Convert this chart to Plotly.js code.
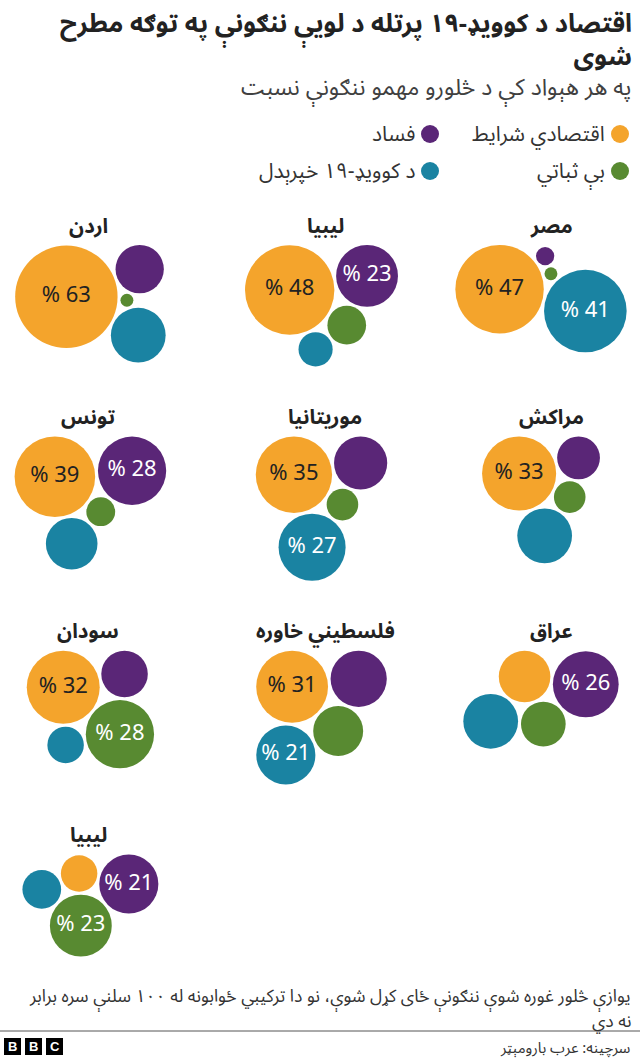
<!DOCTYPE html>
<html>
<head>
<meta charset="utf-8">
<script src="https://cdn.plot.ly/plotly-3.0.1.min.js"></script>
<style>html,body{margin:0;padding:0;background:#fff}</style>
</head>
<body>
<div id="chart" style="width:640px;height:1062px"></div>
<script>
// Countries, ordered by the share naming economic conditions (left to right, row by row)
const countries = ['اردن', 'لیبیا', 'مصر', 'تونس', 'موریتانیا', 'مراکش', 'سودان', 'فلسطیني خاوره', 'عراق', 'لیبیا'];

// Share (%) naming each challenge as the most important one
const economy     = [63, 48, 47, 39, 35, 33, 32, 31, 16, 8];
const corruption  = [14, 23, 2, 28, 17, 11, 13, 19, 26, 21];
const instability = [1, 9, 1, 5, 6, 6, 28, 15, 12, 23];
const covid       = [18, 7, 41, 16, 27, 18, 8, 21, 18, 9];

const seriesNames = ['اقتصادي شرایط', 'فساد', 'بې ثباتي', 'د کوویډ-۱۹ خپرېدل'];
const seriesColors = ['#F4A42C', '#5A2677', '#588A31', '#1A83A2'];

// ---- layout of each bubble cluster ----
const K = 6.45;          // px of radius per sqrt(percentage point)
const GAP = 3;           // white space between touching bubbles
const LABEL_MIN = 20;    // bubbles from this share upward carry their value
const purpleTurn = [20.6, 10.3, 36, 4.4, 10, 14.7, 12.2, 6.8, -7.2, -12]; // direction of the corruption bubble, degrees
const groupCenterX = [90.4, 321.5, 541];
const titleCenterX = [88, 325, 551];
const FIRST_ROW_TOP = 245;
const ROW_GAP = 70;
const TITLE_OFFSET = 19;

const rad = v => K * Math.sqrt(v);

// circle of radius r touching A and B, on the clockwise side of A->B (y up)
function touching(A, B, r) {
  const da = A.r + r + GAP, db = B.r + r + GAP;
  const dx = B.x - A.x, dy = B.y - A.y, d = Math.hypot(dx, dy);
  const a = (da * da - db * db + d * d) / (2 * d);
  const h = Math.sqrt(Math.max(0, da * da - a * a));
  const ux = dx / d, uy = dy / d;
  return {x: A.x + a * ux + h * uy, y: A.y + a * uy - h * ux, r: r};
}

function cluster(i) {
  const O = {x: 0, y: 0, r: rad(economy[i])};
  const t = purpleTurn[i] * Math.PI / 180;
  const rp = rad(corruption[i]);
  const dp = O.r + rp + GAP;
  const P = {x: dp * Math.cos(t), y: dp * Math.sin(t), r: rp};
  const G = touching(O, P, rad(instability[i]));
  const B = touching(O, G, rad(covid[i]));
  // to screen orientation (y down)
  return [O, P, G, B].map(c => ({x: c.x, y: -c.y, r: c.r}));
}

const placed = [];
let rowTop = FIRST_ROW_TOP;
const titles = [];
for (let row = 0; row * 3 < countries.length; row++) {
  let rowBottom = rowTop;
  for (let col = 0; col < 3; col++) {
    const i = row * 3 + col;
    if (i >= countries.length) break;
    const cs = cluster(i);
    const minX = Math.min(...cs.map(c => c.x - c.r));
    const maxX = Math.max(...cs.map(c => c.x + c.r));
    const minY = Math.min(...cs.map(c => c.y - c.r));
    const maxY = Math.max(...cs.map(c => c.y + c.r));
    const ox = groupCenterX[col] - (minX + maxX) / 2;
    const oy = rowTop - minY;
    placed[i] = cs.map(c => ({x: c.x + ox, y: c.y + oy, r: c.r}));
    rowBottom = Math.max(rowBottom, maxY + oy);
    titles.push({text: '<b>' + countries[i] + '</b>', x: titleCenterX[col], y: rowTop - TITLE_OFFSET});
  }
  rowTop = rowBottom + ROW_GAP;
}

const seriesValues = [economy, corruption, instability, covid];
const traces = seriesValues.map((vals, s) => ({
  type: 'scatter',
  mode: 'markers+text',
  name: seriesNames[s],
  x: placed.map(p => p[s].x),
  y: placed.map(p => p[s].y),
  marker: {
    size: vals.map(v => 2 * rad(v)),
    sizemode: 'diameter',
    color: seriesColors[s],
    opacity: 1,
    line: {width: 0}
  },
  text: vals.map(v => v >= LABEL_MIN ? '% ' + v : ''),
  textposition: 'middle center',
  textfont: {family: 'Noto Sans, Open Sans, sans-serif', size: 22, color: s === 0 ? '#222222' : '#ffffff'},
  hoverinfo: 'skip',
  showlegend: false,
  cliponaxis: false
}));

const AR = 'Noto Sans Arabic, Noto Naskh Arabic, DejaVu Sans, sans-serif';

const annotations = titles.map(t => ({
  x: t.x, y: t.y, xref: 'x', yref: 'y', text: t.text, showarrow: false,
  xanchor: 'center', yanchor: 'middle',
  font: {family: AR, size: 20.5, color: '#222222'}
}));

// headline
annotations.push({x: 634, y: 6, yshift: 11, xref: 'x', yref: 'y', showarrow: false, xanchor: 'right', yanchor: 'top', align: 'right',
  text: '<b>اقتصاد د کوویډ-۱۹ پرتله د لویې ننګونې په توګه مطرح<br>شوی</b>',
  font: {family: AR, size: 25.5, color: '#222222'}});

// subtitle
annotations.push({x: 633, y: 87, xref: 'x', yref: 'y', showarrow: false, xanchor: 'right', yanchor: 'middle',
  text: 'په هر هېواد کې د څلورو مهمو ننګونې نسبت', font: {family: AR, size: 23, color: '#404040'}});

// legend: two columns, swatch on the right of each label
const legendSpots = [{x: 620, y: 134}, {x: 430, y: 134}, {x: 620, y: 171}, {x: 430, y: 171}];
const shapes = [];
legendSpots.forEach((p, s) => {
  shapes.push({type: 'circle', xref: 'x', yref: 'y', x0: p.x - 9, x1: p.x + 9, y0: p.y - 9, y1: p.y + 9,
    fillcolor: seriesColors[s], line: {width: 0}});
  annotations.push({x: p.x - 13, y: p.y, xref: 'x', yref: 'y', showarrow: false, xanchor: 'right', yanchor: 'middle',
    text: seriesNames[s], font: {family: AR, size: 21, color: '#333333'}});
});

// note and source
annotations.push({x: 633, y: 996, xref: 'x', yref: 'y', showarrow: false, xanchor: 'right', yanchor: 'middle',
  text: 'یوازې څلور غوره شوې ننګونې ځای کړل شوې، نو دا ترکیبي ځوابونه له ۱۰۰ سلنې سره برابر',
  font: {family: AR, size: 17.5, color: '#333333'}});
annotations.push({x: 633, y: 1021, xref: 'x', yref: 'y', showarrow: false, xanchor: 'right', yanchor: 'middle',
  text: 'نه دي', font: {family: AR, size: 17.5, color: '#333333'}});
annotations.push({x: 633, y: 1048, xref: 'x', yref: 'y', showarrow: false, xanchor: 'right', yanchor: 'middle',
  text: 'سرچینه: عرب بارومېټر', font: {family: AR, size: 15, color: '#333333'}});

shapes.push({type: 'line', xref: 'x', yref: 'y', x0: 0, x1: 640, y0: 1031, y1: 1031, line: {color: '#555555', width: 1}});

// BBC blocks
['B', 'B', 'C'].forEach((ch, j) => {
  const x0 = 4 + j * 21;
  shapes.push({type: 'rect', xref: 'x', yref: 'y', x0: x0, x1: x0 + 17, y0: 1038, y1: 1055, fillcolor: '#000000', line: {width: 0}});
  annotations.push({x: x0 + 8.5, y: 1046.5, xref: 'x', yref: 'y', showarrow: false, xanchor: 'center', yanchor: 'middle',
    text: '<b>' + ch + '</b>', font: {family: 'Liberation Sans, Arial, sans-serif', size: 13, color: '#ffffff'}});
});

const layout = {
  width: 640, height: 1062,
  margin: {l: 0, r: 0, t: 0, b: 0, pad: 0},
  paper_bgcolor: '#ffffff', plot_bgcolor: '#ffffff',
  xaxis: {range: [0, 640], visible: false, fixedrange: true},
  yaxis: {range: [1062, 0], visible: false, fixedrange: true},
  shapes: shapes,
  annotations: annotations,
  showlegend: false
};

Plotly.newPlot('chart', traces, layout, {displayModeBar: false, staticPlot: true});
</script>
</body>
</html>
